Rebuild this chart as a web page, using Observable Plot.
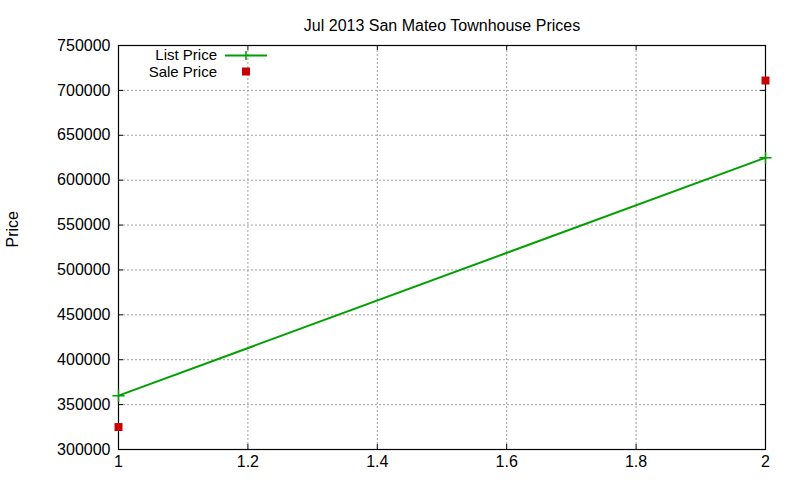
<!DOCTYPE html>
<html><head><meta charset="utf-8">
<script src="https://cdn.jsdelivr.net/npm/d3@7"></script>
<script src="https://cdn.jsdelivr.net/npm/@observablehq/plot@0.6"></script>
<style>body{margin:0;background:#fff}</style>
</head><body><div id="chart"></div>
<script>
const xs = [1, 2];
const listPrice = [360000, 625000];
const salePrice = [325000, 711000];
const xTicks = [1, 1.2, 1.4, 1.6, 1.8, 2];
const yTicks = [300000, 350000, 400000, 450000, 500000, 550000, 600000, 650000, 700000, 750000];
const title = "Jul 2013 San Mateo Townhouse Prices";
const yLabel = "Price";
const seriesNames = ["List Price", "Sale Price"];

const listData = xs.map((x, i) => ({x, y: listPrice[i]}));
const saleData = xs.map((x, i) => ({x, y: salePrice[i]}));
const green = "#00a000", red = "#cc0000";
const W = 800, H = 480, mL = 118, mR = 35, mT = 45, mB = 31;
const pw = W - mL - mR, ph = H - mT - mB, tk = 5;
const fs = 16;
const grid = {stroke: "#a0a0a0", strokeOpacity: 1, strokeDasharray: "2,2", strokeWidth: 1};

const chart = Plot.plot({
  width: W, height: H,
  marginLeft: mL, marginRight: mR, marginTop: mT, marginBottom: mB,
  x: {domain: [1, 2]},
  y: {domain: [300000, 750000]},
  style: {fontFamily: "'Liberation Sans', Arial, sans-serif", fontSize: fs + "px", background: "#fff", color: "#000"},
  marks: [
    Plot.gridX(xTicks.slice(1, -1), {...grid, insetTop: tk, insetBottom: tk}),
    Plot.gridY(yTicks.slice(1, -1), {...grid, insetLeft: tk, insetRight: tk}),
    Plot.tickY(yTicks, {y: d => d, stroke: "#000", insetRight: pw - tk}),
    Plot.tickY(yTicks, {y: d => d, stroke: "#000", insetLeft: pw - tk}),
    Plot.tickX(xTicks, {x: d => d, stroke: "#000", insetTop: ph - tk}),
    Plot.tickX(xTicks, {x: d => d, stroke: "#000", insetBottom: ph - tk}),
    Plot.frame({stroke: "#000", strokeWidth: 1.2}),
    Plot.axisX(xTicks, {tickSize: 0, tickPadding: 6, label: null, tickFormat: d => String(+d.toFixed(1)), fontSize: fs}),
    Plot.axisY(yTicks, {tickSize: 0, tickPadding: 8, label: null, tickFormat: d => String(d), fontSize: fs}),
    Plot.line(listData, {x: "x", y: "y", stroke: green, strokeWidth: 2}),
    Plot.dot(listData, {x: "x", y: "y", symbol: "plus", r: 4, stroke: green, strokeWidth: 1.5}),
    Plot.dot(saleData, {x: "x", y: "y", symbol: "square", r: 4.5, fill: red, stroke: "none"}),
    Plot.text([title], {frameAnchor: "top", dy: -26, fontSize: fs}),
    Plot.text([yLabel], {frameAnchor: "left", dx: -106, rotate: -90, fontSize: fs})
  ]
});

// legend
const svg = d3.select(chart);
const lg = svg.append("g").attr("font-family", "'Liberation Sans', Arial, sans-serif").attr("font-size", 15);
lg.append("text").attr("x", 217).attr("y", 60).attr("text-anchor", "end").text(seriesNames[0]);
lg.append("line").attr("x1", 225).attr("x2", 267).attr("y1", 55.5).attr("y2", 55.5).attr("stroke", green).attr("stroke-width", 2);
lg.append("line").attr("x1", 246).attr("x2", 246).attr("y1", 51).attr("y2", 60).attr("stroke", green).attr("stroke-width", 1.5);
lg.append("text").attr("x", 217).attr("y", 77).attr("text-anchor", "end").text(seriesNames[1]);
lg.append("rect").attr("x", 242).attr("y", 67.5).attr("width", 8).attr("height", 8).attr("fill", red);

document.getElementById("chart").appendChild(chart);
</script>
</body></html>
